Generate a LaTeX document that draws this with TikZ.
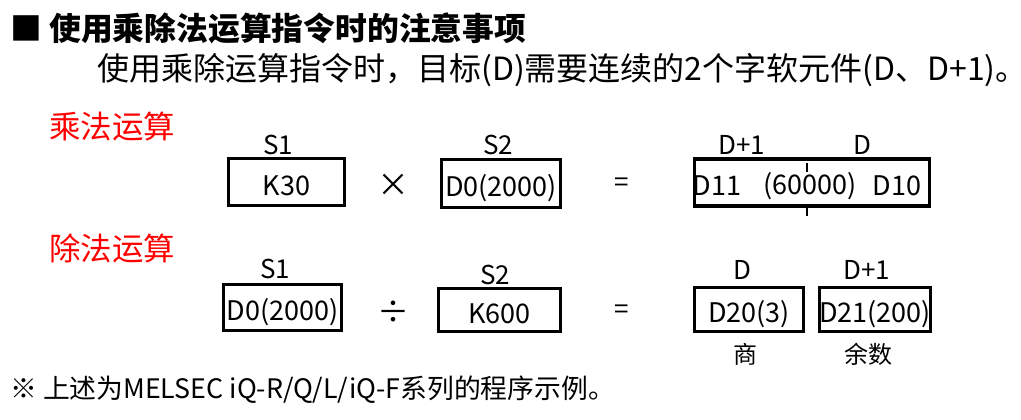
\documentclass[tikz,border=0pt]{standalone}
\usepackage{fontspec}
\setmainfont{Noto Sans CJK SC}
\begin{document}
\begin{tikzpicture}[x=1pt,y=-1pt,
  txt/.style={inner sep=0pt, font=\fontsize{26}{30}\selectfont},
  op/.style={inner sep=0pt, font=\fontsize{32}{36}\selectfont},
  head/.style={inner sep=0pt, anchor=west, font=\fontsize{32}{36}\selectfont},
  redlab/.style={inner sep=0pt, anchor=west, font=\fontsize{31.5}{36}\selectfont, text=red},
  note/.style={inner sep=0pt, anchor=west, font=\fontsize{26.8}{30}\selectfont},
  box/.style={draw, line width=3pt, inner sep=0pt, font=\fontsize{27}{30}\selectfont,
    text height=26pt, text depth=0pt},
  tick/.style={line width=1.8pt}]
\useasboundingbox (0,0) rectangle (1021,420);
% header
\node[head, font=\fontsize{31.8}{36}\selectfont\bfseries] (title) at (10,28) {■ 使用乘除法运算指令时的注意事项};
\node[head] (intro) at (97,70) {使用乘除运算指令时，目标(D)需要连续的2个字软元件(D、D+1)。};
% multiplication
\node[redlab] (mullab) at (49,127) {乘法运算};
\node[box, minimum width=116, minimum height=47] (m1) at (286.5,182) {K30};
\node[box, minimum width=119, minimum height=48] (m2) at (501,183) {D0(2000)};
\node[box, line width=3.5pt, minimum width=235, minimum height=47] (m3) at (812,182.5) {};
\node[txt] (ms1) at (278,145) {S1};
\node[txt] (ms2) at (498,145) {S2};
\node[txt] (md1) at (742,145) {D+1};
\node[txt] (md) at (862,145) {D};
\node[op] (mtimes) at (393,185) {×};
\node[txt] (meq) at (622,185) {=};
\node[txt, font=\fontsize{27}{30}\selectfont] (d11) at (717,186) {D11};
\node[txt, font=\fontsize{27}{30}\selectfont] (d60) at (810,186) {(60000)};
\node[txt, font=\fontsize{27}{30}\selectfont] (d10) at (897,186) {D10};
\coordinate (tk) at (807,160);
\coordinate (bk) at (807,208);
\draw[tick] (tk) ++(0,3) -- ++(0,9);
\draw[tick] (bk) -- ++(0,8);
% division
\node[redlab] (divlab) at (49,248) {除法运算};
\node[box, minimum width=118, minimum height=46] (v1) at (282.5,307.5) {D0(2000)};
\node[box, minimum width=122, minimum height=43] (v2) at (499.5,310) {K600};
\node[box, minimum width=109, minimum height=44] (v3) at (749,309.5) {D20(3)};
\node[box, minimum width=111, minimum height=44] (v4) at (875,309.5) {D21(200)};
\node[txt] (vs1) at (275,269) {S1};
\node[txt] (vs2) at (495,275) {S2};
\node[txt] (vd) at (742,270) {D};
\node[txt] (vd1) at (867,270) {D+1};
\node[op] (vdiv) at (393,312) {÷};
\node[txt] (veq) at (622,312) {=};
\node[txt, font=\fontsize{24}{28}\selectfont] (quot) at (745,354) {商};
\node[txt, font=\fontsize{24}{28}\selectfont] (rem) at (868,354) {余数};
% footnote
\node[note] (foot) at (10,390) {※ 上述为MELSEC iQ-R/Q/L/iQ-F系列的程序示例。};
\end{tikzpicture}
\end{document}
